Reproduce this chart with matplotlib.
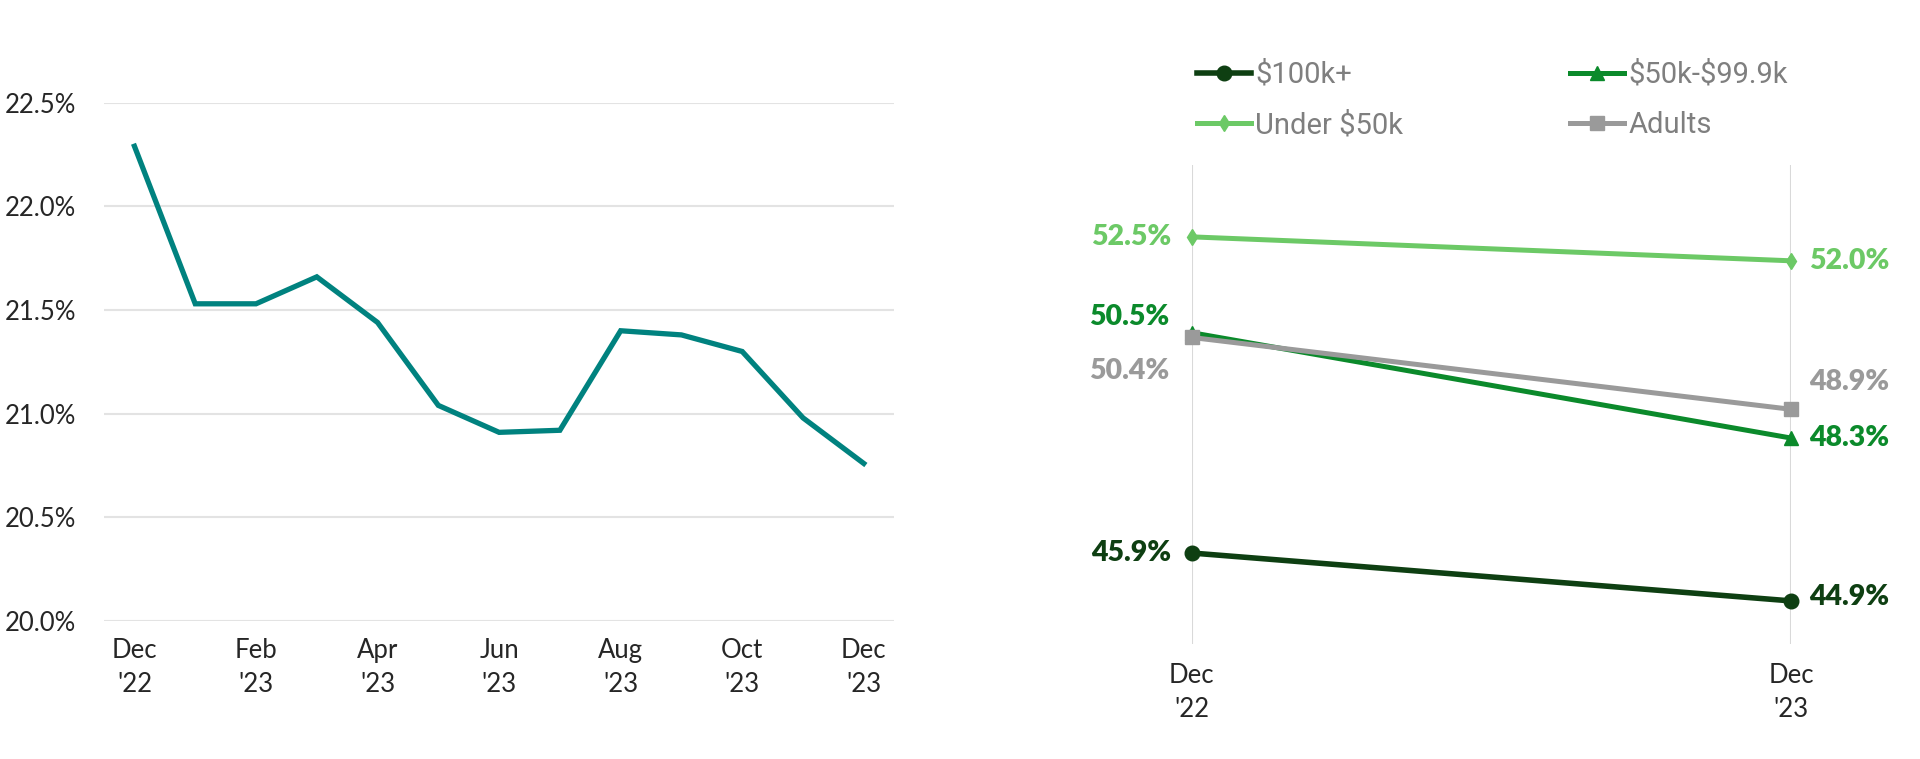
import numpy as np
import matplotlib.pyplot as plt
from matplotlib.ticker import FuncFormatter

# left panel: monthly share
MONTHS = ['Dec\n\'22', 'Jan', 'Feb\n\'23', 'Mar', 'Apr\n\'23', 'May', 'Jun\n\'23', 'Jul',
          'Aug\n\'23', 'Sep', 'Oct\n\'23', 'Nov', 'Dec\n\'23']
SHARE = [22.29, 21.53, 21.53, 21.66, 21.44, 21.04, 20.91, 20.92, 21.40, 21.38, 21.30, 20.98, 20.76]

# right panel: by income group
PERIODS = ['Dec\n\'22', 'Dec\n\'23']
GROUPS = ['$100k+', '$50k-$99.9k', 'Under $50k', 'Adults']
INC_100K = [45.9, 44.9]
INC_50K = [50.5, 48.3]
INC_U50K = [52.5, 52.0]
ADULTS = [50.4, 48.9]

TEAL = '#00827F'
DARK_GREEN = '#0E3F12'
GREEN = '#0B8A2B'
LIGHT_GREEN = '#6CC966'
GRAY = '#9A9A9A'
TICK_COLOR = '#262626'
FONT = ['Lato', 'Liberation Sans', 'DejaVu Sans']

plt.rcParams['font.family'] = FONT
plt.rcParams['text.parse_math'] = False

fig = plt.figure(figsize=(19.2, 7.59), dpi=100)

# ---- left panel ----
ax1 = fig.add_axes([0.0542, 0.1818, 0.4115, 0.6829])
x = np.arange(len(SHARE))
ax1.plot(x, SHARE, color=TEAL, lw=3.8, solid_joinstyle='miter')
ax1.set_xlim(-0.5, len(SHARE) - 0.5)
ax1.set_ylim(20.0, 22.5)
ax1.set_yticks([20.0, 20.5, 21.0, 21.5, 22.0, 22.5])
ax1.yaxis.set_major_formatter(FuncFormatter(lambda v, p: '%.1f%%' % v))
ax1.set_xticks(x[::2])
ax1.set_xticklabels(MONTHS[::2])
ax1.grid(axis='y', color='#E3E3E3', lw=1.5)
ax1.set_axisbelow(True)
for s in ax1.spines.values():
    s.set_visible(False)
ax1.tick_params(axis='both', length=0, labelsize=18.5, labelcolor=TICK_COLOR)
ax1.tick_params(axis='y', pad=20)
ax1.tick_params(axis='x', pad=12)
for lab in ax1.get_xticklabels():
    lab.set_linespacing(1.45)

# ---- right panel ----
ax2 = fig.add_axes([0.6206, 0.1515, 0.3122, 0.6311])
xr = np.arange(len(PERIODS))
series = [
    (INC_100K, DARK_GREEN, 'o', 10.5, 4.0),
    (INC_50K, GREEN, '^', 10, 3.6),
    (INC_U50K, LIGHT_GREEN, 'd', 8, 3.6),
    (ADULTS, GRAY, 's', 9.5, 3.6),
]
handles = []
for (vals, col, mk, ms, lw), name in zip(series, GROUPS):
    h, = ax2.plot(xr, vals, color=col, marker=mk, markersize=ms, lw=lw,
                  label=name, clip_on=False, zorder=3)
    handles.append(h)

ax2.set_xlim(0, 1)
ax2.set_ylim(44, 54)
ax2.set_xticks(xr)
ax2.set_xticklabels(PERIODS)
ax2.set_yticks([])
ax2.grid(axis='x', color='#D9D9D9', lw=1.5)
ax2.set_axisbelow(True)
for s in ax2.spines.values():
    s.set_visible(False)
ax2.tick_params(axis='x', length=0, labelsize=18.5, labelcolor=TICK_COLOR, pad=14)
for lab in ax2.get_xticklabels():
    lab.set_linespacing(1.45)

# data labels (offsets in pixels)
left_offsets = [(-20, 0), (-22, 16), (-20, 0), (-22, -34)]
right_offsets = [(18, 4), (18, 0), (18, 0), (18, 27)]
for (vals, col, mk, ms, lw), lo, ro in zip(series, left_offsets, right_offsets):
    ax2.annotate('%.1f%%' % vals[0], (xr[0], vals[0]), xytext=lo, textcoords='offset pixels',
                 ha='right', va='center', fontsize=20.5, fontweight='heavy', color=col)
    ax2.annotate('%.1f%%' % vals[1], (xr[1], vals[1]), xytext=ro, textcoords='offset pixels',
                 ha='left', va='center', fontsize=20.5, fontweight='heavy', color=col)

# legend laid out row-wise: $100k+ | $50k-$99.9k / Under $50k | Adults
order = [0, 2, 1, 3]
leg = fig.legend([handles[i] for i in order], [GROUPS[i] for i in order],
                 loc='upper left', bbox_to_anchor=(0.6235, 0.92), ncol=2,
                 frameon=False, handlelength=1.85, handletextpad=0.15,
                 columnspacing=5.7, labelspacing=0.78, borderpad=0, borderaxespad=0,
                 prop={'family': ['Roboto', 'DejaVu Sans'], 'size': 21})
for t in leg.get_texts():
    t.set_color('#7F7F7F')

plt.savefig('out.png', dpi=100)
